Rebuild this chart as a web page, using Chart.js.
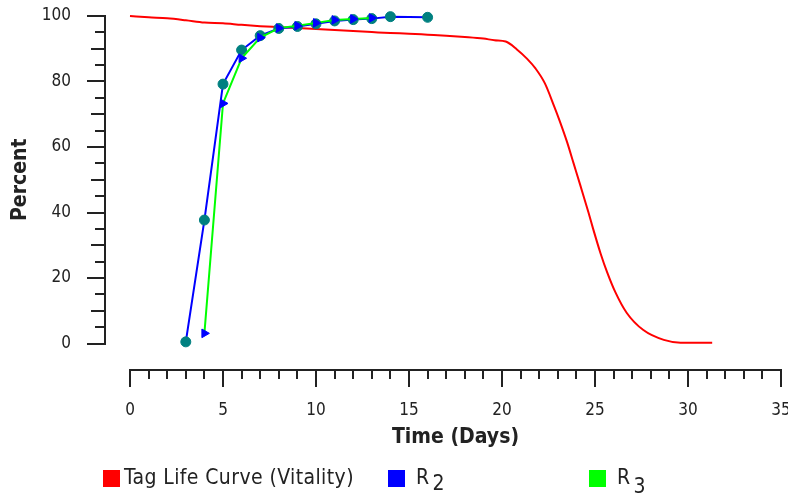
<!DOCTYPE html>
<html>
<head>
<meta charset="utf-8">
<script src="https://cdn.jsdelivr.net/npm/chart.js@4.4.1/dist/chart.umd.min.js"></script>
<style>
  html, body { margin: 0; padding: 0; background: #fff; }
</style>
</head>
<body>
<canvas id="chart" width="788" height="498"></canvas>
<script>
// tag life curve (vitality)
var vitalityDays = [0, 1, 2, 3, 4, 5, 6, 7, 8, 9, 10, 11, 12, 13, 14, 15, 16, 17, 18, 19, 19.6, 20.2,
    20.8, 21.34, 21.8, 22.3, 22.8, 23.1, 23.5, 23.85, 24.2, 24.65, 24.9, 25.3, 25.65, 26.1, 26.7,
    27.6, 28.7, 29.6, 31.3];
var vitalityPct = [100, 99.6, 99.3, 98.7, 98.0, 97.8, 97.3, 96.9, 96.6, 96.3, 96.0, 95.7, 95.4, 95.1, 94.8, 94.6, 94.3, 94.0, 93.6, 93.1, 92.6, 92.2,
    89.8, 87.0, 84.0, 79.5, 72.5, 68.0, 61.5, 55.0, 48.5, 40.0, 35.0, 27.5, 21.8, 15.6, 9.4,
    4.1, 1.1, 0.25, 0.25];

// R2 and R3
var r2Days = [3, 4, 5, 6, 7, 8, 9, 10, 11, 12, 13, 14, 16];
var r2Pct = [0.5, 37.7, 79.2, 89.6, 94.0, 96.2, 96.8, 97.6, 98.5, 98.9, 99.2, 99.8, 99.6];
var r3Days = [4, 5, 6, 7, 8, 9, 10, 11, 12, 13];
var r3Pct = [3.1, 73.3, 87.1, 93.4, 96.3, 97.0, 97.9, 98.8, 99.1, 99.4];

var xTickValues = [0, 5, 10, 15, 20, 25, 30, 35];
var yTickValues = [0, 20, 40, 60, 80, 100];

var seriesNames = ['Tag Life Curve (Vitality)', 'R', 'R'];
var seriesSubs = ['', '2', '3'];
var seriesColors = ['#ff0000', '#0000ff', '#00ff00'];

var axisColor = '#222';
var textColor = '#222';
var tickFont = { family: 'DejaVu Sans Condensed', size: 17 };
var titleFont = { family: 'DejaVu Sans Condensed', size: 21, weight: 'bold' };

function toPoints(xs, ys) {
    var pts = [];
    for (var i = 0; i < xs.length; i++) {
        pts.push({ x: xs[i], y: ys[i] });
    }
    return pts;
}

// axes sit a little away from the plot, like the original
var AXIS_GAP_LEFT = 25;
var AXIS_GAP_BOTTOM = 26;

var detachedAxes = {
    id: 'detachedAxes',
    beforeDatasetsDraw: function (chart) {
        var ctx = chart.ctx;
        var xs = chart.scales.x;
        var ys = chart.scales.y;
        var x0 = Math.round(xs.getPixelForValue(xs.min));
        var x1 = Math.round(xs.getPixelForValue(xs.max));
        var y0 = Math.round(ys.getPixelForValue(ys.min));
        var y1 = Math.round(ys.getPixelForValue(ys.max));
        var axisY = y0 + AXIS_GAP_BOTTOM;
        var axisX = x0 - AXIS_GAP_LEFT;

        ctx.save();
        ctx.strokeStyle = axisColor;
        ctx.lineWidth = 2;
        ctx.beginPath();
        ctx.moveTo(x0 - 1, axisY);
        ctx.lineTo(x1 + 1, axisY);
        for (var d = xs.min; d <= xs.max; d++) {
            var px = Math.round(xs.getPixelForValue(d));
            ctx.moveTo(px, axisY);
            ctx.lineTo(px, axisY + (d % 5 === 0 ? 17 : 9));
        }
        ctx.moveTo(axisX, y0 + 1);
        ctx.lineTo(axisX, y1 - 1);
        for (var v = ys.min; v <= ys.max; v += 5) {
            var py = Math.round(ys.getPixelForValue(v));
            var len = v % 20 === 0 ? 18 : (v % 10 === 0 ? 14 : 10);
            ctx.moveTo(axisX, py);
            ctx.lineTo(axisX - len, py);
        }
        ctx.stroke();
        ctx.restore();
    }
};

var LEGEND_X = [103, 388, 589];
var LEGEND_Y = 479;

var bottomLegend = {
    id: 'bottomLegend',
    afterDraw: function (chart) {
        var ctx = chart.ctx;
        ctx.save();
        ctx.font = '21px "DejaVu Sans Condensed"';
        ctx.letterSpacing = '0.4px';
        ctx.textBaseline = 'middle';
        ctx.textAlign = 'left';
        for (var i = 0; i < seriesNames.length; i++) {
            var x = LEGEND_X[i];
            ctx.fillStyle = seriesColors[i];
            ctx.fillRect(x, LEGEND_Y - 9, 17, 17);
            ctx.fillStyle = textColor;
            var tx = x + (i === 0 ? 21 : 28);
            ctx.fillText(seriesNames[i], tx, LEGEND_Y);
            if (seriesSubs[i]) {
                var w = ctx.measureText(seriesNames[i]).width;
                ctx.fillText(seriesSubs[i], tx + w + 3, LEGEND_Y + (i === 1 ? 6 : 9));
            }
        }
        ctx.restore();
    }
};

var chart = new Chart(document.getElementById('chart'), {
    type: 'line',
    data: {
        datasets: [
            {
                label: seriesNames[0],
                data: toPoints(vitalityDays, vitalityPct),
                borderColor: seriesColors[0],
                borderWidth: 2,
                pointRadius: 0,
                cubicInterpolationMode: 'monotone',
                clip: false,
                order: 2
            },
            {
                label: seriesNames[1] + seriesSubs[1],
                data: toPoints(r2Days, r2Pct),
                borderColor: seriesColors[1],
                borderWidth: 2,
                pointStyle: 'circle',
                pointRadius: 5,
                pointBackgroundColor: '#008080',
                pointBorderColor: '#008080',
                pointBorderWidth: 1,
                tension: 0,
                clip: false,
                order: 1
            },
            {
                label: seriesNames[2] + seriesSubs[2],
                data: toPoints(r3Days, r3Pct),
                borderColor: seriesColors[2],
                borderWidth: 2,
                pointStyle: 'triangle',
                pointRotation: 90,
                pointRadius: 5,
                pointBackgroundColor: '#0000ff',
                pointBorderColor: '#0000ff',
                pointBorderWidth: 1,
                tension: 0,
                clip: false,
                order: 0
            }
        ]
    },
    options: {
        responsive: false,
        animation: false,
        layout: { padding: { top: 16, right: 7, left: 0, bottom: 0 } },
        plugins: {
            legend: { display: false },
            tooltip: { enabled: false }
        },
        scales: {
            x: {
                type: 'linear',
                min: 0,
                max: 35,
                grid: { display: false, drawTicks: false },
                border: { display: false },
                afterBuildTicks: function (scale) {
                    scale.ticks = xTickValues.map(function (v) { return { value: v }; });
                },
                ticks: { padding: 57, font: tickFont, color: textColor, maxRotation: 0, autoSkip: false },
                title: { display: true, text: 'Time (Days)', font: titleFont, color: textColor, padding: { top: 0, bottom: 48 } },
                afterFit: function (scale) {
                    scale.height = 154.5;
                    scale.paddingLeft = 0;
                    scale.paddingRight = 0;
                }
            },
            y: {
                min: 0,
                max: 100,
                grid: { display: false, drawTicks: false },
                border: { display: false },
                afterBuildTicks: function (scale) {
                    scale.ticks = yTickValues.map(function (v) { return { value: v }; });
                },
                ticks: { padding: 59, font: tickFont, color: textColor, autoSkip: false },
                title: { display: true, text: 'Percent', font: titleFont, color: textColor, padding: { top: 8, bottom: 0 } },
                afterFit: function (scale) {
                    scale.width = 130;
                    scale.paddingTop = 0;
                    scale.paddingBottom = 0;
                }
            }
        }
    },
    plugins: [detachedAxes, bottomLegend]
});
</script>
</body>
</html>
